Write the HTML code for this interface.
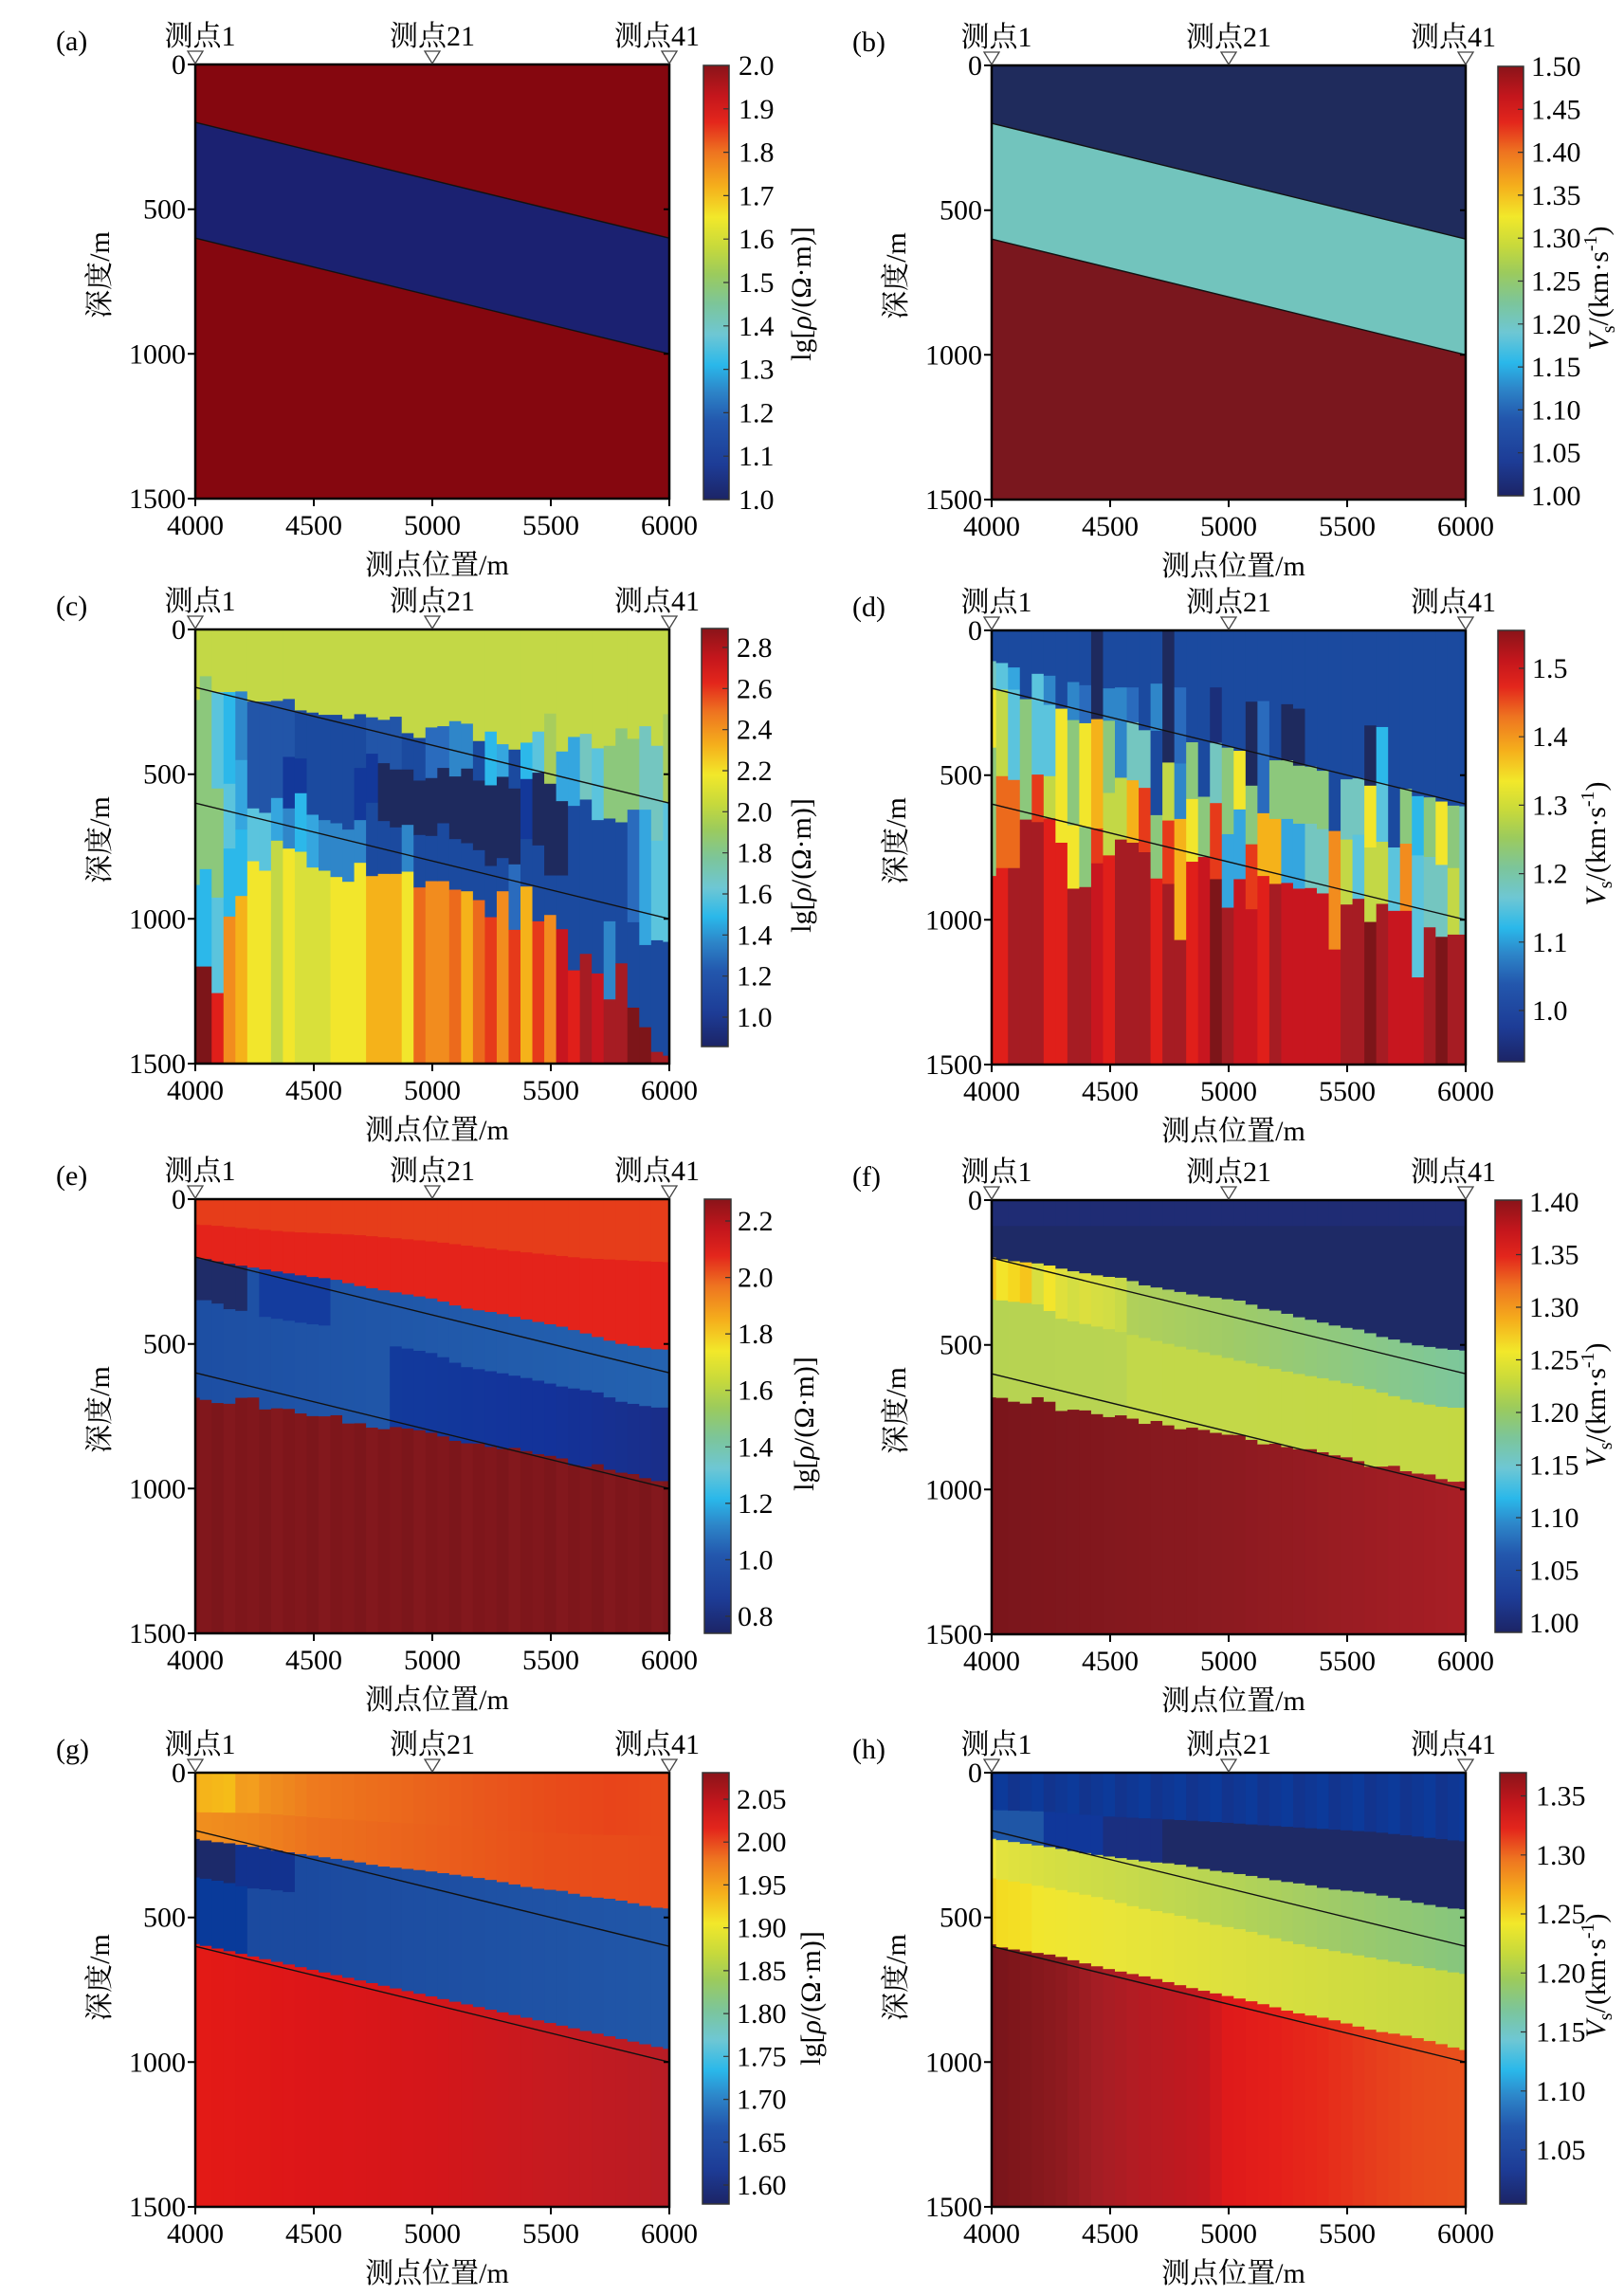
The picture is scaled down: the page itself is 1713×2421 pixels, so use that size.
<!DOCTYPE html>
<html><head><meta charset="utf-8">
<style>
html,body{margin:0;padding:0;background:#fff;}
svg{display:block;}
text{font-family:"Liberation Serif","Noto Serif CJK SC",serif;font-size:30px;fill:#000;}
.m{text-anchor:middle;}
.e{text-anchor:end;}
.tri{fill:#fff;stroke:#444;stroke-width:1.3;}
.fr{fill:none;stroke:#000;stroke-width:2.5;}
.tk{fill:none;stroke:#000;stroke-width:2;}
.ln{stroke:#111;stroke-width:1.4;}
.cb{fill:url(#jet);stroke:#333;stroke-width:1.5;}
.ct{stroke:#333;stroke-width:1.2;}
</style></head><body>
<svg id="s" width="1713" height="2421" viewBox="0 0 1713 2421" xmlns="http://www.w3.org/2000/svg">
<defs>
<linearGradient id="jet" x1="0" y1="0" x2="0" y2="1">
<stop offset="0" stop-color="#8a1419"/>
<stop offset="0.07" stop-color="#c4161c"/>
<stop offset="0.13" stop-color="#e3261c"/>
<stop offset="0.20" stop-color="#ee7420"/>
<stop offset="0.28" stop-color="#f5b01c"/>
<stop offset="0.35" stop-color="#f2e82a"/>
<stop offset="0.42" stop-color="#c6d93c"/>
<stop offset="0.48" stop-color="#9ccb5c"/>
<stop offset="0.55" stop-color="#7cc59a"/>
<stop offset="0.62" stop-color="#6ec7d4"/>
<stop offset="0.69" stop-color="#2ab8ea"/>
<stop offset="0.75" stop-color="#2d86c9"/>
<stop offset="0.82" stop-color="#2357ad"/>
<stop offset="0.92" stop-color="#1d3c96"/>
<stop offset="1" stop-color="#1c2466"/>
</linearGradient>
</defs>
<rect width="1713" height="2421" fill="#fff"/>

<rect x="206" y="68" width="500" height="458" fill="#85070f"/>
<polygon points="206,129.1 706,251.2 706,373.3 206,251.2" fill="#1b2171"/>
<rect x="1046" y="69" width="500" height="458" fill="#1f2b5c"/>
<polygon points="1046,130.1 1546,252.2 1546,374.3 1046,252.2" fill="#72c4bd"/>
<polygon points="1046,252.2 1546,374.3 1546,527 1046,527" fill="#7a171e"/>

<g id="heat"></g>

<g class="ln">
<line x1="206" y1="129.1" x2="706" y2="251.2"/><line x1="206" y1="251.2" x2="706" y2="373.3"/>
<line x1="1046" y1="130.1" x2="1546" y2="252.2"/><line x1="1046" y1="252.2" x2="1546" y2="374.3"/>
<line x1="206" y1="725.1" x2="706" y2="847.2"/><line x1="206" y1="847.2" x2="706" y2="969.3"/>
<line x1="1046" y1="726.1" x2="1546" y2="848.2"/><line x1="1046" y1="848.2" x2="1546" y2="970.3"/>
<line x1="206" y1="1326.1" x2="706" y2="1448.2"/><line x1="206" y1="1448.2" x2="706" y2="1570.3"/>
<line x1="1046" y1="1327.1" x2="1546" y2="1449.2"/><line x1="1046" y1="1449.2" x2="1546" y2="1571.3"/>
<line x1="206" y1="1931.1" x2="706" y2="2053.2"/><line x1="206" y1="2053.2" x2="706" y2="2175.3"/>
<line x1="1046" y1="1931.1" x2="1546" y2="2053.2"/><line x1="1046" y1="2053.2" x2="1546" y2="2175.3"/>
</g>

<rect class="fr" x="206" y="68" width="500" height="458"/>
<rect class="fr" x="1046" y="69" width="500" height="458"/>
<rect class="fr" x="206" y="664" width="500" height="458"/>
<rect class="fr" x="1046" y="665" width="500" height="458"/>
<rect class="fr" x="206" y="1265" width="500" height="458"/>
<rect class="fr" x="1046" y="1266" width="500" height="458"/>
<rect class="fr" x="206" y="1870" width="500" height="458"/>
<rect class="fr" x="1046" y="1870" width="500" height="458"/>

<path class="tk" d="M198 68H206M198 220.7H206M198 373.3H206M198 526H206M700 220.7H706M700 373.3H706M206 526V534M331 526V534M456 526V534M581 526V534M706 526V534"/>
<path class="tk" d="M1038 69H1046M1038 221.7H1046M1038 374.3H1046M1038 527H1046M1540 221.7H1546M1540 374.3H1546M1046 527V535M1171 527V535M1296 527V535M1421 527V535M1546 527V535"/>
<path class="tk" d="M198 664H206M198 816.7H206M198 969.3H206M198 1122H206M700 816.7H706M700 969.3H706M206 1122V1130M331 1122V1130M456 1122V1130M581 1122V1130M706 1122V1130"/>
<path class="tk" d="M1038 665H1046M1038 817.7H1046M1038 970.3H1046M1038 1123H1046M1540 817.7H1546M1540 970.3H1546M1046 1123V1131M1171 1123V1131M1296 1123V1131M1421 1123V1131M1546 1123V1131"/>
<path class="tk" d="M198 1265H206M198 1417.7H206M198 1570.3H206M198 1723H206M700 1417.7H706M700 1570.3H706M206 1723V1731M331 1723V1731M456 1723V1731M581 1723V1731M706 1723V1731"/>
<path class="tk" d="M1038 1266H1046M1038 1418.7H1046M1038 1571.3H1046M1038 1724H1046M1540 1418.7H1546M1540 1571.3H1546M1046 1724V1732M1171 1724V1732M1296 1724V1732M1421 1724V1732M1546 1724V1732"/>
<path class="tk" d="M198 1870H206M198 2022.7H206M198 2175.3H206M198 2328H206M700 2022.7H706M700 2175.3H706M206 2328V2336M331 2328V2336M456 2328V2336M581 2328V2336M706 2328V2336"/>
<path class="tk" d="M1038 1870H1046M1038 2022.7H1046M1038 2175.3H1046M1038 2328H1046M1540 2022.7H1546M1540 2175.3H1546M1046 2328V2336M1171 2328V2336M1296 2328V2336M1421 2328V2336M1546 2328V2336"/>

<polygon class="tri" points="198,54 214,54 206,67"/><polygon class="tri" points="448,54 464,54 456,67"/><polygon class="tri" points="698,54 714,54 706,67"/>
<polygon class="tri" points="1038,55 1054,55 1046,68"/><polygon class="tri" points="1288,55 1304,55 1296,68"/><polygon class="tri" points="1538,55 1554,55 1546,68"/>
<polygon class="tri" points="198,650 214,650 206,663"/><polygon class="tri" points="448,650 464,650 456,663"/><polygon class="tri" points="698,650 714,650 706,663"/>
<polygon class="tri" points="1038,651 1054,651 1046,664"/><polygon class="tri" points="1288,651 1304,651 1296,664"/><polygon class="tri" points="1538,651 1554,651 1546,664"/>
<polygon class="tri" points="198,1251 214,1251 206,1264"/><polygon class="tri" points="448,1251 464,1251 456,1264"/><polygon class="tri" points="698,1251 714,1251 706,1264"/>
<polygon class="tri" points="1038,1252 1054,1252 1046,1265"/><polygon class="tri" points="1288,1252 1304,1252 1296,1265"/><polygon class="tri" points="1538,1252 1554,1252 1546,1265"/>
<polygon class="tri" points="198,1856 214,1856 206,1869"/><polygon class="tri" points="448,1856 464,1856 456,1869"/><polygon class="tri" points="698,1856 714,1856 706,1869"/>
<polygon class="tri" points="1038,1856 1054,1856 1046,1869"/><polygon class="tri" points="1288,1856 1304,1856 1296,1869"/><polygon class="tri" points="1538,1856 1554,1856 1546,1869"/>

<rect class="cb" x="742" y="69" width="27" height="458"/>
<rect class="cb" x="1580" y="70" width="27" height="453"/>
<rect class="cb" x="740" y="663" width="28" height="441"/>
<rect class="cb" x="1580" y="665" width="28" height="455"/>
<rect class="cb" x="743" y="1265" width="28" height="458"/>
<rect class="cb" x="1577" y="1266" width="28" height="456"/>
<rect class="cb" x="741" y="1870" width="28" height="455"/>
<rect class="cb" x="1582" y="1870" width="28" height="455"/>
<path class="ct" d="M763 114.8H769M763 160.6H769M763 206.4H769M763 252.2H769M763 298H769M763 343.8H769M763 389.6H769M763 435.4H769M763 481.2H769
M1601 115.3H1607M1601 160.6H1607M1601 205.9H1607M1601 251.2H1607M1601 296.5H1607M1601 341.8H1607M1601 387.1H1607M1601 432.4H1607M1601 477.7H1607
M762 683H768M762 726.3H768M762 769.7H768M762 813H768M762 856.3H768M762 899.7H768M762 943H768M762 986.3H768M762 1029.7H768M762 1073H768
M1602 705H1608M1602 777.2H1608M1602 849.4H1608M1602 921.6H1608M1602 993.8H1608M1602 1066H1608
M765 1288H771M765 1347.6H771M765 1407.1H771M765 1466.7H771M765 1526.3H771M765 1585.9H771M765 1645.4H771M765 1705H771
M1599 1323.5H1605M1599 1379H1605M1599 1434.5H1605M1599 1490H1605M1599 1545.5H1605M1599 1601H1605M1599 1656.5H1605
M763 1898H769M763 1943.2H769M763 1988.4H769M763 2033.7H769M763 2078.9H769M763 2124.1H769M763 2169.3H769M763 2214.6H769M763 2259.8H769M763 2305H769
M1604 1894.5H1610M1604 1956.8H1610M1604 2019H1610M1604 2081.3H1610M1604 2143.5H1610M1604 2205.8H1610M1604 2268H1610"/>

<text x="59" y="53">(a)</text>
<text class="m" x="211" y="48">测点1</text><text class="m" x="456" y="48">测点21</text><text class="m" x="693" y="48">测点41</text>
<text class="e" x="196" y="78">0</text><text class="e" x="196" y="230.7">500</text><text class="e" x="196" y="383.3">1000</text><text class="e" x="196" y="536">1500</text>
<text class="m" x="206" y="564">4000</text><text class="m" x="331" y="564">4500</text><text class="m" x="456" y="564">5000</text><text class="m" x="581" y="564">5500</text><text class="m" x="706" y="564">6000</text>
<text class="m" x="461" y="606">测点位置/m</text>
<text class="m" transform="translate(115,290) rotate(-90)">深度/m</text>
<text x="779" y="79">2.0</text><text x="779" y="124.8">1.9</text><text x="779" y="170.6">1.8</text><text x="779" y="216.4">1.7</text><text x="779" y="262.2">1.6</text><text x="779" y="308">1.5</text><text x="779" y="353.8">1.4</text><text x="779" y="399.6">1.3</text><text x="779" y="445.4">1.2</text><text x="779" y="491.2">1.1</text><text x="779" y="537">1.0</text>
<text class="m" transform="translate(855,310) rotate(-90)">lg[<tspan font-style="italic">ρ</tspan>/(Ω·m)]</text>

<text x="899" y="54">(b)</text>
<text class="m" x="1051" y="49">测点1</text><text class="m" x="1296" y="49">测点21</text><text class="m" x="1533" y="49">测点41</text>
<text class="e" x="1036" y="79">0</text><text class="e" x="1036" y="231.7">500</text><text class="e" x="1036" y="384.3">1000</text><text class="e" x="1036" y="537">1500</text>
<text class="m" x="1046" y="565">4000</text><text class="m" x="1171" y="565">4500</text><text class="m" x="1296" y="565">5000</text><text class="m" x="1421" y="565">5500</text><text class="m" x="1546" y="565">6000</text>
<text class="m" x="1301" y="607">测点位置/m</text>
<text class="m" transform="translate(955,291) rotate(-90)">深度/m</text>
<text x="1615" y="80">1.50</text><text x="1615" y="125.3">1.45</text><text x="1615" y="170.6">1.40</text><text x="1615" y="215.9">1.35</text><text x="1615" y="261.2">1.30</text><text x="1615" y="306.5">1.25</text><text x="1615" y="351.8">1.20</text><text x="1615" y="397.1">1.15</text><text x="1615" y="442.4">1.10</text><text x="1615" y="487.7">1.05</text><text x="1615" y="533">1.00</text>
<text class="m" transform="translate(1696,304) rotate(-90)"><tspan font-style="italic">V</tspan><tspan font-size="20" dy="7">s</tspan><tspan dy="-7">/(km·s</tspan><tspan font-size="20" dy="-12">-1</tspan><tspan dy="12">)</tspan></text>

<text x="59" y="649">(c)</text>
<text class="m" x="211" y="644">测点1</text><text class="m" x="456" y="644">测点21</text><text class="m" x="693" y="644">测点41</text>
<text class="e" x="196" y="674">0</text><text class="e" x="196" y="826.7">500</text><text class="e" x="196" y="979.3">1000</text><text class="e" x="196" y="1132">1500</text>
<text class="m" x="206" y="1160">4000</text><text class="m" x="331" y="1160">4500</text><text class="m" x="456" y="1160">5000</text><text class="m" x="581" y="1160">5500</text><text class="m" x="706" y="1160">6000</text>
<text class="m" x="461" y="1202">测点位置/m</text>
<text class="m" transform="translate(115,886) rotate(-90)">深度/m</text>
<text x="777" y="693">2.8</text><text x="777" y="736.3">2.6</text><text x="777" y="779.7">2.4</text><text x="777" y="823">2.2</text><text x="777" y="866.3">2.0</text><text x="777" y="909.7">1.8</text><text x="777" y="953">1.6</text><text x="777" y="996.3">1.4</text><text x="777" y="1039.7">1.2</text><text x="777" y="1083">1.0</text>
<text class="m" transform="translate(855,913) rotate(-90)">lg[<tspan font-style="italic">ρ</tspan>/(Ω·m)]</text>

<text x="899" y="650">(d)</text>
<text class="m" x="1051" y="645">测点1</text><text class="m" x="1296" y="645">测点21</text><text class="m" x="1533" y="645">测点41</text>
<text class="e" x="1036" y="675">0</text><text class="e" x="1036" y="827.7">500</text><text class="e" x="1036" y="980.3">1000</text><text class="e" x="1036" y="1133">1500</text>
<text class="m" x="1046" y="1161">4000</text><text class="m" x="1171" y="1161">4500</text><text class="m" x="1296" y="1161">5000</text><text class="m" x="1421" y="1161">5500</text><text class="m" x="1546" y="1161">6000</text>
<text class="m" x="1301" y="1203">测点位置/m</text>
<text class="m" transform="translate(955,887) rotate(-90)">深度/m</text>
<text x="1616" y="715">1.5</text><text x="1616" y="787.2">1.4</text><text x="1616" y="859.4">1.3</text><text x="1616" y="931.6">1.2</text><text x="1616" y="1003.8">1.1</text><text x="1616" y="1076">1.0</text>
<text class="m" transform="translate(1693,890) rotate(-90)"><tspan font-style="italic">V</tspan><tspan font-size="20" dy="7">s</tspan><tspan dy="-7">/(km·s</tspan><tspan font-size="20" dy="-12">-1</tspan><tspan dy="12">)</tspan></text>

<text x="59" y="1250">(e)</text>
<text class="m" x="211" y="1245">测点1</text><text class="m" x="456" y="1245">测点21</text><text class="m" x="693" y="1245">测点41</text>
<text class="e" x="196" y="1275">0</text><text class="e" x="196" y="1427.7">500</text><text class="e" x="196" y="1580.3">1000</text><text class="e" x="196" y="1733">1500</text>
<text class="m" x="206" y="1761">4000</text><text class="m" x="331" y="1761">4500</text><text class="m" x="456" y="1761">5000</text><text class="m" x="581" y="1761">5500</text><text class="m" x="706" y="1761">6000</text>
<text class="m" x="461" y="1803">测点位置/m</text>
<text class="m" transform="translate(115,1487) rotate(-90)">深度/m</text>
<text x="778" y="1298">2.2</text><text x="778" y="1357.6">2.0</text><text x="778" y="1417.1">1.8</text><text x="778" y="1476.7">1.6</text><text x="778" y="1536.3">1.4</text><text x="778" y="1595.9">1.2</text><text x="778" y="1655.4">1.0</text><text x="778" y="1715">0.8</text>
<text class="m" transform="translate(858,1502) rotate(-90)">lg[<tspan font-style="italic">ρ</tspan>/(Ω·m)]</text>

<text x="899" y="1251">(f)</text>
<text class="m" x="1051" y="1246">测点1</text><text class="m" x="1296" y="1246">测点21</text><text class="m" x="1533" y="1246">测点41</text>
<text class="e" x="1036" y="1276">0</text><text class="e" x="1036" y="1428.7">500</text><text class="e" x="1036" y="1581.3">1000</text><text class="e" x="1036" y="1734">1500</text>
<text class="m" x="1046" y="1762">4000</text><text class="m" x="1171" y="1762">4500</text><text class="m" x="1296" y="1762">5000</text><text class="m" x="1421" y="1762">5500</text><text class="m" x="1546" y="1762">6000</text>
<text class="m" x="1301" y="1804">测点位置/m</text>
<text class="m" transform="translate(955,1488) rotate(-90)">深度/m</text>
<text x="1613" y="1278">1.40</text><text x="1613" y="1333.5">1.35</text><text x="1613" y="1389">1.30</text><text x="1613" y="1444.5">1.25</text><text x="1613" y="1500">1.20</text><text x="1613" y="1555.5">1.15</text><text x="1613" y="1611">1.10</text><text x="1613" y="1666.5">1.05</text><text x="1613" y="1722">1.00</text>
<text class="m" transform="translate(1693,1482) rotate(-90)"><tspan font-style="italic">V</tspan><tspan font-size="20" dy="7">s</tspan><tspan dy="-7">/(km·s</tspan><tspan font-size="20" dy="-12">-1</tspan><tspan dy="12">)</tspan></text>

<text x="59" y="1855">(g)</text>
<text class="m" x="211" y="1850">测点1</text><text class="m" x="456" y="1850">测点21</text><text class="m" x="693" y="1850">测点41</text>
<text class="e" x="196" y="1880">0</text><text class="e" x="196" y="2032.7">500</text><text class="e" x="196" y="2185.3">1000</text><text class="e" x="196" y="2338">1500</text>
<text class="m" x="206" y="2366">4000</text><text class="m" x="331" y="2366">4500</text><text class="m" x="456" y="2366">5000</text><text class="m" x="581" y="2366">5500</text><text class="m" x="706" y="2366">6000</text>
<text class="m" x="461" y="2408">测点位置/m</text>
<text class="m" transform="translate(115,2086) rotate(-90)">深度/m</text>
<text x="777" y="1908">2.05</text><text x="777" y="1953.2">2.00</text><text x="777" y="1998.4">1.95</text><text x="777" y="2043.7">1.90</text><text x="777" y="2088.9">1.85</text><text x="777" y="2134.1">1.80</text><text x="777" y="2179.3">1.75</text><text x="777" y="2224.6">1.70</text><text x="777" y="2269.8">1.65</text><text x="777" y="2315">1.60</text>
<text class="m" transform="translate(865,2108) rotate(-90)">lg[<tspan font-style="italic">ρ</tspan>/(Ω·m)]</text>

<text x="899" y="1855">(h)</text>
<text class="m" x="1051" y="1850">测点1</text><text class="m" x="1296" y="1850">测点21</text><text class="m" x="1533" y="1850">测点41</text>
<text class="e" x="1036" y="1880">0</text><text class="e" x="1036" y="2032.7">500</text><text class="e" x="1036" y="2185.3">1000</text><text class="e" x="1036" y="2338">1500</text>
<text class="m" x="1046" y="2366">4000</text><text class="m" x="1171" y="2366">4500</text><text class="m" x="1296" y="2366">5000</text><text class="m" x="1421" y="2366">5500</text><text class="m" x="1546" y="2366">6000</text>
<text class="m" x="1301" y="2408">测点位置/m</text>
<text class="m" transform="translate(955,2086) rotate(-90)">深度/m</text>
<text x="1620" y="1904.5">1.35</text><text x="1620" y="1966.8">1.30</text><text x="1620" y="2029">1.25</text><text x="1620" y="2091.3">1.20</text><text x="1620" y="2153.5">1.15</text><text x="1620" y="2215.8">1.10</text><text x="1620" y="2278">1.05</text>
<text class="m" transform="translate(1693,2084) rotate(-90)"><tspan font-style="italic">V</tspan><tspan font-size="20" dy="7">s</tspan><tspan dy="-7">/(km·s</tspan><tspan font-size="20" dy="-12">-1</tspan><tspan dy="12">)</tspan></text>
</svg>
<script>
(function(){
var NS='http://www.w3.org/2000/svg',HG=document.getElementById('heat'),H=458;
function R(x,y,w,h,c){var r=document.createElementNS(NS,'rect');r.setAttribute('x',x.toFixed(2));r.setAttribute('y',y.toFixed(2));r.setAttribute('width',(w+0.5).toFixed(2));r.setAttribute('height',(h+0.6).toFixed(2));r.setAttribute('fill',c);HG.appendChild(r);}
function cx0(L,k){return k==0?L:(L+4.7+12.53*(k-1));}
function cx1(L,k){return k==40?L+500:(L+4.7+12.53*k);}
function cz(k){return k==0?55:(k==40?1517:62+37.1*(k-0.5));}
function draw(L,T,zt,zb,k,segs){var x0=cx0(L,k),x1=cx1(L,k);for(var i=0;i<segs.length;i++){var s=segs[i][1],e=i+1<segs.length?segs[i+1][1]:zb;s=Math.max(s,zt);e=Math.min(e,zb);if(e<=s)continue;var y0=T+(s-zt)/(zb-zt)*H,y1=T+(e-zt)/(zb-zt)*H;R(x0,y0,x1-x0,y1-y0,segs[i][0]);}}
function ip(p,x){if(x<=p[0][0])return p[0][1];for(var i=1;i<p.length;i++){if(x<=p[i][0]){var t=(x-p[i-1][0])/(p[i][0]-p[i-1][0]);return p[i-1][1]+t*(p[i][1]-p[i-1][1]);}}return p[p.length-1][1];}
function h2r(h){return [parseInt(h.slice(1,3),16),parseInt(h.slice(3,5),16),parseInt(h.slice(5,7),16)];}
function ipc(st,k){if(k<=st[0][0])return st[0][1];for(var i=1;i<st.length;i++){if(k<=st[i][0]){var t=(k-st[i-1][0])/(st[i][0]-st[i-1][0]);var a=h2r(st[i-1][1]),b=h2r(st[i][1]);return 'rgb('+Math.round(a[0]+(b[0]-a[0])*t)+','+Math.round(a[1]+(b[1]-a[1])*t)+','+Math.round(a[2]+(b[2]-a[2])*t)+')';}}return st[st.length-1][1];}
var PAL={N:'#1e2a5e',M:'#1b2f7a',D:'#13389a',B:'#1b4a9f',C:'#2255a8',E:'#2a6bbd',F:'#2f86c9',L:'#35a6df',K:'#2cb8ea',Q:'#5bc4dd',T:'#74c6c0',G:'#8cc87c',H:'#a8cd5c',Y:'#c3d846',Z:'#d9e03a',W:'#f2e62c',O:'#f5b21a',P:'#f28c1e',R:'#ec6a1c',S:'#e63a1a',U:'#e01f1a',V:'#c8161f',X:'#a61c23',A:'#7d1519'};
function strPanel(L,T,zt,zb,cols){for(var k=0;k<cols.length;k++){var toks=cols[k].split(' '),segs=[];for(var j=0;j<toks.length;j++){segs.push([PAL[toks[j][0]],+toks[j].slice(1)]);}draw(L,T,zt,zb,k,segs);}}
strPanel(206,664,42,1415,[
"Y42 G265 K850 A1108","Y42 G190 K800 A1108","Y42 Q240 G545 Q890 U1192","Y42 K240 Q530 K735 P950","Y42 F238 L455 K675 O885",
"Y42 C270 Q608 W775","Y42 C270 Q622 W805","Y42 C268 L575 Y710","Y42 C262 D445 F608 W735","Y42 B298 D450 K560 Z745",
"Y42 B305 L628 Z795","Y42 B312 F645 Z805","Y42 B312 F655 W825","Y42 B325 F675 W840","Y42 B310 D480 F645 W780",
"Y42 C320 D435 B590 O822","Y42 C328 N465 B648 O815","Y42 C318 N485 B668 O815","Y42 B370 N485 F660 W808","Y42 B385 N520 B692 R858",
"Y42 E352 N512 B695 P838","Y42 E348 N480 B655 P838","Y42 F332 N507 B705 R865","Y42 F340 N482 B718 O870","Y42 B395 N520 B740 R898",
"Y42 K365 N535 B790 S952","Y42 L405 N508 B765 P870","Y42 B422 N545 E785 S992","Y42 K400 D515 B705 O855","Y42 Q365 N495 B725 S965",
"Y42 H308 N530 B820 P945","Y42 L428 N585 B820 V990","Y42 L382 B600 U1120","Y42 T372 B580 X1068","Y42 Q418 B645 V1130",
"Y42 G410 B640 F965 X1212","Y42 G355 B652 X1098","Y42 G388 E612 B968 A1238","Y42 T348 L612 B1040 A1300","Y42 T410 Q710 B1025 X1378",
"Y42 H310 Q590 B1030 X1390"]);
strPanel(1046,665,45,1415,[
"B45 T142 W232 G415 U820","B45 Q148 Y232 R505 U795","B45 L162 Q232 R517 X795","B45 G262 X642","B45 Q182 S500 X650",
"B45 F188 Q280 Y505 U638","B45 W292 U715","B45 F208 G328 W660 X860","B45 E218 W338 G665 X855","N45 O325 S670 V780",
"B45 F228 G330 Y558 U755","B45 F225 Y510 X705","B45 E225 T335 O518 X715","B45 T360 S542 X745","B45 F213 B362 G628 U828",
"N45 Y462 S645 X845","B45 E225 F465 O640 X1022","B45 G398 W577 U775","B45 G570 V760","B45 M225 T400 S590 A830",
"B45 G415 L688 X920","B45 W425 L610 V830","B45 N270 G535 S720 V925","B45 E268 O622 U820","B45 G455 O640 X845",
"B45 N278 G455 L640 V842","B45 N292 G472 L655 V860","B45 G475 T655 V858","B45 G488 T672 V875","B45 P678 V1052",
"B45 T515 Y705 X910","B45 T512 Q690 X892","B45 N345 W535 Y730 A965","B45 K350 Q528 Y712 X908","B45 Q730 V930",
"B45 G545 P718 V930","B45 K568 Q755 V1140","B45 G572 T760 X982","B45 W585 T785 A1012","B45 G598 Y795 X1005",
"B45 T600 X1005"]);
(function(){var L=206,T=1265,zt=45,zb=1420;
var b1=[[48,125],[100,128],[330,148],[550,158],[800,180],[1000,205],[1260,232],[1527,245]];
var b2=[[48,228],[145,248],[255,266],[400,290],[480,298],[550,318],[700,345],[800,362],[885,390],[990,405],[1100,430],[1190,448],[1250,465],[1300,480],[1370,502],[1480,520],[1527,522]];
var nv=[[48,365],[100,365],[145,392],[215,402]];
var b3=[[640,505],[800,535],[885,575],[1000,595],[1100,615],[1200,640],[1300,655],[1370,685],[1480,705],[1527,705]];
var b4=[[48,672],[145,698],[220,660],[255,712],[330,705],[370,722],[440,738],[480,720],[515,758],[550,750],[625,778],[660,765],[740,775],[800,788],[885,820],[920,815],[1000,838],[1035,830],[1100,848],[1140,858],[1180,858],[1220,882],[1250,898],[1300,882],[1330,898],[1370,912],[1400,910],[1480,938],[1527,938]];
var reds=['#7e161b','#81171c','#7c161b','#83181d'];
for(var k=0;k<=40;k++){var x=cz(k);var s=[['#e63d1a',zt],['#e4231b',ip(b1,x)]];var Bc=ipc([[0,'#1d4ea3'],[40,'#2462b0']],k);var t2=ip(b2,x);
if(k<=4){s.push(['#1f2c68',t2],[Bc,ip(nv,x)]);}else if(k>=6&&k<=11){s.push(['#143c9e',t2],[Bc,t2+150]);}else s.push([Bc,t2]);
if(k>=17)s.push([ipc([[17,'#123a9c'],[30,'#13329a'],[40,'#1a2e88']],k),ip(b3,x)]);
s.push([reds[k%4],ip(b4,x)]);draw(L,T,zt,zb,k,s);}
})();
(function(){var L=1046,T=1266,zt=48,zb=1422;
var c1=[[48,228],[100,240],[210,250],[285,270],[400,290],[470,295],[510,315],[620,335],[690,350],[770,360],[840,368],[880,390],[950,400],[990,415],[1060,430],[1140,450],[1210,460],[1250,478],[1290,485],[1360,505],[1470,520],[1527,525]];
var c2=[[48,362],[210,380],[250,420],[430,460],[470,470],[620,508],[880,570],[990,595],[1100,615],[1210,640],[1360,685],[1470,705],[1527,705]];
var c3=[[48,672],[100,675],[140,700],[210,662],[250,713],[285,718],[320,705],[360,722],[400,730],[430,740],[470,720],[508,760],[545,752],[580,742],[620,780],[655,766],[690,770],[730,780],[770,790],[840,792],[880,822],[950,818],[990,840],[1030,832],[1065,842],[1100,850],[1140,862],[1175,862],[1210,885],[1250,898],[1290,883],[1320,895],[1360,915],[1397,912],[1433,920],[1470,940],[1527,938]];
var up=[[0,'#f5c41c'],[1,'#f3e42a'],[2,'#f5d820'],[3,'#f6c51c'],[4,'#d8df40'],[5,'#f3e52c'],[6,'#dfe03c'],[7,'#d4de42'],[8,'#dcdf3e'],[9,'#d6de42'],[10,'#d2dd44'],[11,'#c8da48'],[12,'#b0d05a'],[20,'#a0cb66'],[40,'#7cc79c']];
var lo=[[0,'#b6d352'],[11,'#b9d452'],[12,'#c2d84a'],[40,'#c4d843']];
var rd=[[0,'#7a151b'],[20,'#8c1a20'],[40,'#a81e25']];
for(var k=0;k<=40;k++){var x=cz(k);draw(L,T,zt,zb,k,[['#1f2c74',zt],['#1e2a66',130],[ipc(up,k),ip(c1,x)],[ipc(lo,k),ip(c2,x)],[ipc(rd,k),ip(c3,x)]]);}
})();
(function(){var L=206,T=1870,zt=60,zb=1432;
var g1b=[[48,185],[250,188],[400,200],[620,215],[800,225],[1000,240],[1250,255],[1527,260]];
var g2=[[48,268],[100,278],[175,285],[250,298],[360,315],[435,325],[545,340],[620,355],[770,370],[840,380],[950,395],[1030,410],[1100,425],[1210,435],[1250,450],[1360,460],[1470,485],[1527,490]];
var gn=[[48,390],[140,405],[215,425],[290,430],[360,440]];
var TG=[[0,'#f5ac1a'],[1,'#f5b41a'],[3,'#f5bc18'],[4,'#f29c1e'],[5,'#f39e1e'],[6,'#f0901e'],[8,'#ee861e'],[10,'#ee7a1e'],[15,'#ec6e1c'],[20,'#ea621c'],[25,'#e9561c'],[30,'#e84c1a'],[35,'#e8441a'],[40,'#e84a1a']];
var SG=[[0,'#f0901e'],[5,'#ef861e'],[10,'#ec721e'],[20,'#ea601c'],[30,'#e84e1a'],[40,'#e84a1a']];
var RG=[[0,'#e41a16'],[10,'#dc1618'],[20,'#d4161a'],[30,'#c61a20'],[40,'#b81c24']];
for(var k=0;k<=40;k++){var x=cz(k);var s=[[ipc(TG,k),zt],[ipc(SG,k),ip(g1b,x)]];var t2=ip(g2,x);
if(k<=8){s.push([k<=3?'#1c2a6a':'#12328f',t2]);s.push([k<=4?'#093a9a':'#1b4a9f',ip(gn,x)]);}else s.push([ipc([[9,'#1b4a9f'],[40,'#2157a8']],k),t2]);
s.push([ipc(RG,k),600+335*(x-48)/1479]);draw(L,T,zt,zb,k,s);}
})();
(function(){var L=1046,T=1870,zt=62,zb=1435;
var h1=[[48,180],[215,185],[400,200],[700,215],[1000,235],[1250,250],[1527,280]];
var h2=[[48,270],[140,285],[250,300],[360,320],[435,330],[545,345],[620,350],[730,370],[840,385],[950,405],[1030,415],[1100,430],[1210,440],[1290,455],[1360,470],[1470,490],[1527,495]];
var h3=[[48,395],[140,410],[250,430],[400,460],[510,490],[620,510],[730,540],[840,560],[950,590],[1030,610],[1140,630],[1250,650],[1360,670],[1470,690],[1527,700]];
var h4=[[48,600],[65,612],[140,625],[250,640],[320,660],[400,680],[470,695],[545,710],[660,740],[770,765],[840,780],[920,800],[990,820],[1100,840],[1175,860],[1250,880],[1325,890],[1395,905],[1470,925],[1527,942]];
var TB=['#0f3794','#0c3a9a','#12348e'];
var L3=[[0,'#efe73a'],[1,'#e2e23e'],[5,'#d6df42'],[20,'#b5d455'],[30,'#9cca6a'],[40,'#86c67e']];
var Y4=[[0,'#f3d21e'],[1,'#f3dc22'],[3,'#f3e026'],[4,'#f1e62e'],[10,'#eae538'],[20,'#dde03e'],[30,'#d0dc40'],[40,'#c4d843']];
var RH=[[0,'#78141a'],[3,'#82171c'],[6,'#8e1a1f'],[9,'#a41d24'],[12,'#b21c23'],[18,'#c4181f'],[20,'#df1a1a'],[24,'#e41f1a'],[28,'#e62a1a'],[32,'#e63c1c'],[36,'#e84a1c'],[40,'#e8501c']];
for(var k=0;k<=40;k++){var x=cz(k);var b2c=k<=4?'#1f56a6':(k<=9?'#10379a':(k<=14?'#1a2f80':'#1e2a66'));
draw(L,T,zt,zb,k,[[TB[k%3],zt],[b2c,ip(h1,x)],[ipc(L3,k),ip(h2,x)],[ipc(Y4,k),ip(h3,x)],[ipc(RH,k),ip(h4,x)]]);}
})();
})();
</script>
</body></html>
